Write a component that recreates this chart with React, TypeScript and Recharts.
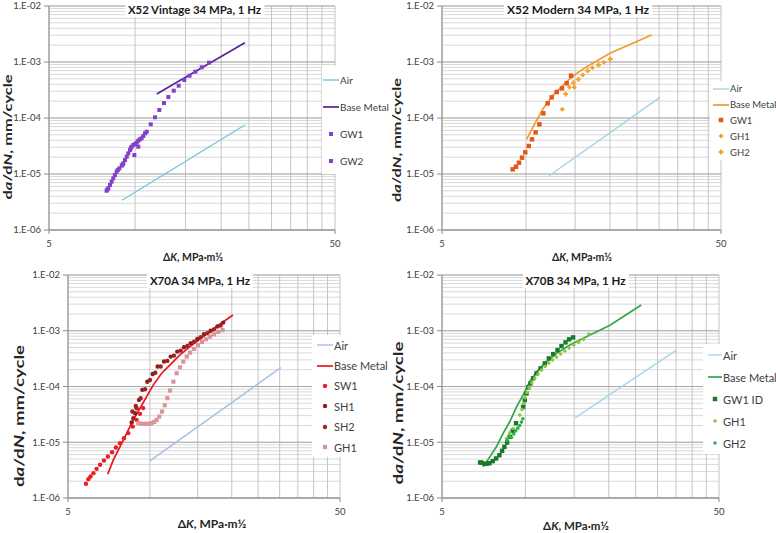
import React from 'react';
import { ComposedChart, Line, Scatter, XAxis, YAxis, CartesianGrid, ReferenceLine, Legend } from 'recharts';

const FONT = 'Lato, "DejaVu Sans", sans-serif';

type Pt = { k: number; v: number };

// ---------- axis ticks ----------
const X_TICKS = [5, 10, 15, 20, 25, 30, 35, 40, 45, 50];
const X_TICK_LABELS: Record<number, string> = { 5: '5', 50: '50' };
const Y_DECADES = [1e-6, 1e-5, 1e-4, 1e-3, 1e-2];
const Y_DECADE_LABELS = ['1.E-06', '1.E-05', '1.E-04', '1.E-03', '1.E-02'];
const Y_MINOR_MULT = [2, 3, 4, 5, 6, 7, 8, 9];
const Y_TICKS = [...Y_DECADES, ...Y_DECADES.slice(0, 4).flatMap((d) => Y_MINOR_MULT.map((m) => m * d))].sort((a, b) => a - b);

// ---------- Panel 1: X52 Vintage ----------
const P1_AIR: Pt[] = [{ k: 9.0, v: 3.4e-6 }, { k: 24.2, v: 7.5e-5 }];
const P1_BASE: Pt[] = [{ k: 11.9, v: 2.68e-4 }, { k: 24.2, v: 2.2e-3 }];
const P1_GW1: Pt[] = [
  { k: 7.95, v: 5.03e-6 }, { k: 8.0, v: 5.3e-6 }, { k: 8.06, v: 5.55e-6 }, { k: 8.17, v: 6.37e-6 }, { k: 8.28, v: 7.29e-6 },
  { k: 8.39, v: 8.38e-6 }, { k: 8.5, v: 9.6e-6 }, { k: 8.62, v: 1.1e-5 }, { k: 8.7, v: 1.18e-5 }, { k: 8.81, v: 1.26e-5 },
  { k: 8.98, v: 1.41e-5 }, { k: 9.04, v: 1.48e-5 }, { k: 9.1, v: 1.55e-5 }, { k: 9.22, v: 1.78e-5 }, { k: 9.35, v: 2.04e-5 },
  { k: 9.47, v: 2.34e-5 }, { k: 9.6, v: 2.68e-5 }, { k: 9.66, v: 2.9e-5 }, { k: 9.73, v: 3.07e-5 }, { k: 9.86, v: 3.3e-5 },
  { k: 10.0, v: 3.43e-5 }, { k: 10.13, v: 3.62e-5 }, { k: 10.26, v: 3.94e-5 }, { k: 10.4, v: 4.16e-5 }, { k: 10.54, v: 4.34e-5 },
  { k: 10.68, v: 4.77e-5 }, { k: 10.83, v: 5.33e-5 }, { k: 10.98, v: 5.69e-5 },
];
const P1_GW2: Pt[] = [
  { k: 9.94, v: 2.18e-5 }, { k: 10.26, v: 3.07e-5 }, { k: 11.34, v: 7.71e-5 }, { k: 11.74, v: 1.03e-4 }, { k: 12.15, v: 1.39e-4 },
  { k: 12.62, v: 1.85e-4 }, { k: 13.07, v: 2.37e-4 }, { k: 13.65, v: 3.07e-4 }, { k: 14.2, v: 3.77e-4 }, { k: 14.86, v: 4.77e-4 },
  { k: 15.5, v: 5.69e-4 }, { k: 16.24, v: 6.71e-4 }, { k: 17.1, v: 8.04e-4 }, { k: 18.13, v: 9.72e-4 },
];

// ---------- Panel 2: X52 Modern ----------
const P2_AIR: Pt[] = [{ k: 12.1, v: 9.3e-6 }, { k: 30.2, v: 2.34e-4 }];
const P2_BASE: Pt[] = [
  { k: 10.05, v: 4.16e-5 }, { k: 10.77, v: 8.04e-5 }, { k: 11.54, v: 1.49e-4 }, { k: 12.53, v: 2.57e-4 }, { k: 13.99, v: 4.45e-4 },
  { k: 15.2, v: 6.28e-4 }, { k: 16.5, v: 8.25e-4 }, { k: 20.0, v: 1.43e-3 }, { k: 28.2, v: 3.03e-3 },
];
const P2_GW1: Pt[] = [
  { k: 8.96, v: 1.21e-5 }, { k: 9.21, v: 1.35e-5 }, { k: 9.44, v: 1.59e-5 }, { k: 9.68, v: 1.96e-5 }, { k: 9.94, v: 2.44e-5 },
  { k: 10.23, v: 3.16e-5 }, { k: 10.51, v: 4.16e-5 }, { k: 10.83, v: 5.55e-5 }, { k: 11.17, v: 7.71e-5 }, { k: 11.54, v: 1.21e-4 },
  { k: 11.96, v: 1.83e-4 }, { k: 12.36, v: 2.34e-4 }, { k: 12.89, v: 2.91e-4 }, { k: 13.46, v: 3.39e-4 }, { k: 13.99, v: 4.16e-4 },
  { k: 14.5, v: 5.69e-4 },
];
const P2_GH1: Pt[] = [
  { k: 13.49, v: 1.43e-4 }, { k: 14.3, v: 3.53e-4 }, { k: 14.9, v: 3.53e-4 }, { k: 15.97, v: 5.86e-4 }, { k: 17.3, v: 7.92e-4 },
  { k: 19.0, v: 9.87e-4 },
];
const P2_GH2: Pt[] = [
  { k: 13.88, v: 2.68e-4 }, { k: 14.78, v: 4.27e-4 }, { k: 15.4, v: 4.9e-4 }, { k: 16.65, v: 7.0e-4 }, { k: 18.2, v: 8.84e-4 },
  { k: 20.05, v: 1.13e-3 },
];

// ---------- Panel 3: X70A ----------
const P3_AIR: Pt[] = [{ k: 10.0, v: 4.64e-6 }, { k: 30.3, v: 2.18e-4 }];
const P3_BASE: Pt[] = [
  { k: 7.0, v: 2.68e-6 }, { k: 7.34, v: 4.84e-6 }, { k: 7.77, v: 8.38e-6 }, { k: 8.22, v: 1.46e-5 }, { k: 8.69, v: 2.52e-5 },
  { k: 9.2, v: 4.08e-5 }, { k: 9.73, v: 6.6e-5 }, { k: 10.3, v: 1.07e-4 }, { k: 11.05, v: 1.73e-4 }, { k: 11.86, v: 2.44e-4 },
  { k: 12.9, v: 3.68e-4 }, { k: 14.05, v: 5.19e-4 }, { k: 15.7, v: 7.85e-4 }, { k: 17.6, v: 1.19e-3 }, { k: 20.2, v: 1.92e-3 },
];
const P3_SW1: Pt[] = [
  { k: 5.82, v: 1.8e-6 }, { k: 5.94, v: 2.18e-6 }, { k: 6.05, v: 2.43e-6 }, { k: 6.2, v: 2.79e-6 }, { k: 6.37, v: 3.33e-6 },
  { k: 6.56, v: 3.94e-6 }, { k: 6.78, v: 4.71e-6 }, { k: 7.01, v: 5.54e-6 }, { k: 7.26, v: 6.64e-6 }, { k: 7.5, v: 8.05e-6 },
  { k: 7.77, v: 9.63e-6 }, { k: 8.03, v: 1.18e-5 }, { k: 8.33, v: 1.46e-5 }, { k: 8.65, v: 1.91e-5 }, { k: 8.94, v: 2.52e-5 },
  { k: 9.2, v: 3.23e-5 }, { k: 9.45, v: 4.1e-5 },
];
const P3_SH1: Pt[] = [
  { k: 8.57, v: 2.26e-5 }, { k: 8.82, v: 3.32e-5 }, { k: 9.12, v: 5.75e-5 }, { k: 9.38, v: 8.7e-5 }, { k: 9.78, v: 1.22e-4 },
  { k: 10.24, v: 1.68e-4 }, { k: 10.68, v: 2.28e-4 }, { k: 11.27, v: 2.8e-4 }, { k: 11.93, v: 3.44e-4 }, { k: 12.61, v: 4.23e-4 },
  { k: 13.35, v: 5.06e-4 }, { k: 14.13, v: 5.97e-4 }, { k: 14.94, v: 7.13e-4 }, { k: 15.81, v: 8.65e-4 }, { k: 16.73, v: 1.0e-3 },
  { k: 17.7, v: 1.19e-3 }, { k: 18.6, v: 1.4e-3 },
];
const P3_SH2: Pt[] = [
  { k: 8.62, v: 3.55e-5 }, { k: 8.69, v: 2.7e-5 }, { k: 8.87, v: 4.49e-5 }, { k: 8.94, v: 4.08e-5 }, { k: 9.25, v: 6.17e-5 },
  { k: 9.6, v: 8.94e-5 }, { k: 10.01, v: 1.31e-4 }, { k: 10.47, v: 1.77e-4 }, { k: 10.96, v: 2.28e-4 }, { k: 11.59, v: 2.88e-4 },
  { k: 12.26, v: 3.58e-4 }, { k: 12.98, v: 4.4e-4 }, { k: 13.73, v: 5.34e-4 }, { k: 14.53, v: 6.38e-4 }, { k: 15.37, v: 7.64e-4 },
  { k: 16.27, v: 9.0e-4 }, { k: 17.2, v: 1.06e-3 }, { k: 18.2, v: 1.24e-3 },
];
const P3_GH1: Pt[] = [
  { k: 9.07, v: 2.2e-5 }, { k: 9.28, v: 2.14e-5 }, { k: 9.49, v: 2.14e-5 }, { k: 9.7, v: 2.14e-5 }, { k: 9.93, v: 2.14e-5 },
  { k: 10.15, v: 2.2e-5 }, { k: 10.38, v: 2.32e-5 }, { k: 10.59, v: 2.52e-5 }, { k: 10.83, v: 2.89e-5 }, { k: 11.08, v: 3.55e-5 },
  { k: 11.34, v: 4.61e-5 }, { k: 11.59, v: 6.17e-5 }, { k: 11.86, v: 8.45e-5 }, { k: 12.2, v: 1.22e-4 }, { k: 12.54, v: 1.73e-4 },
  { k: 12.9, v: 2.21e-4 }, { k: 13.27, v: 2.8e-4 }, { k: 13.66, v: 3.44e-4 }, { k: 14.05, v: 4.05e-4 }, { k: 14.53, v: 4.72e-4 },
  { k: 15.03, v: 5.5e-4 }, { k: 15.55, v: 6.3e-4 }, { k: 16.08, v: 7.04e-4 }, { k: 16.64, v: 7.85e-4 }, { k: 17.2, v: 8.65e-4 },
  { k: 17.85, v: 9.5e-4 }, { k: 18.5, v: 1.03e-3 },
];

// ---------- Panel 4: X70B ----------
const P4_AIR: Pt[] = [{ k: 15.1, v: 2.74e-5 }, { k: 35.1, v: 4.5e-4 }];
const P4_BASE: Pt[] = [
  { k: 7.03, v: 3.62e-6 }, { k: 7.44, v: 5.47e-6 }, { k: 7.86, v: 8.28e-6 }, { k: 8.31, v: 1.44e-5 }, { k: 8.78, v: 2.33e-5 },
  { k: 9.29, v: 4.32e-5 }, { k: 9.81, v: 7.01e-5 }, { k: 10.37, v: 1.22e-4 }, { k: 10.97, v: 1.84e-4 }, { k: 11.92, v: 2.78e-4 },
  { k: 12.96, v: 3.93e-4 }, { k: 14.47, v: 5.54e-4 }, { k: 16.6, v: 7.8e-4 }, { k: 20.2, v: 1.26e-3 }, { k: 26.2, v: 2.89e-3 },
];
const P4_GW1: Pt[] = [
  { k: 6.86, v: 4.34e-6 }, { k: 6.95, v: 4.3e-6 }, { k: 7.12, v: 4.1e-6 }, { k: 7.25, v: 4.1e-6 }, { k: 7.42, v: 4.21e-6 },
  { k: 7.62, v: 4.58e-6 }, { k: 7.84, v: 5.12e-6 }, { k: 8.06, v: 5.86e-6 }, { k: 8.24, v: 7.01e-6 }, { k: 8.4, v: 8.27e-6 },
  { k: 8.59, v: 9.9e-6 }, { k: 8.78, v: 1.25e-5 }, { k: 9.0, v: 1.6e-5 }, { k: 9.25, v: 2.2e-5 },
  { k: 9.81, v: 4.32e-5 }, { k: 9.95, v: 5.7e-5 }, { k: 10.09, v: 7.52e-5 }, { k: 10.23, v: 9.64e-5 }, { k: 10.44, v: 1.14e-4 },
  { k: 10.66, v: 1.4e-4 }, { k: 10.97, v: 1.72e-4 }, { k: 11.34, v: 2.11e-4 }, { k: 11.75, v: 2.6e-4 }, { k: 12.15, v: 3.19e-4 },
  { k: 12.6, v: 3.82e-4 }, { k: 13.06, v: 4.5e-4 }, { k: 13.5, v: 5.31e-4 }, { k: 13.96, v: 6.19e-4 }, { k: 14.38, v: 7.01e-4 },
  { k: 14.87, v: 7.6e-4 },
];
const P4_GH1: Pt[] = [
  { k: 8.55, v: 1.17e-5 }, { k: 8.78, v: 1.48e-5 }, { k: 9.03, v: 1.77e-5 }, { k: 9.54, v: 3.07e-5 }, { k: 9.73, v: 3.88e-5 },
  { k: 9.87, v: 4.98e-5 }, { k: 9.98, v: 6.27e-5 }, { k: 10.12, v: 7.83e-5 }, { k: 10.31, v: 9.64e-5 }, { k: 10.55, v: 1.17e-4 },
  { k: 10.81, v: 1.4e-4 }, { k: 11.11, v: 1.67e-4 }, { k: 11.43, v: 1.97e-4 }, { k: 11.78, v: 2.3e-4 }, { k: 12.15, v: 2.63e-4 },
  { k: 12.53, v: 2.98e-4 }, { k: 12.96, v: 3.37e-4 }, { k: 13.4, v: 3.82e-4 }, { k: 13.88, v: 4.32e-4 }, { k: 14.38, v: 4.89e-4 },
  { k: 14.96, v: 5.54e-4 }, { k: 15.56, v: 6.19e-4 }, { k: 16.22, v: 7.01e-4 }, { k: 16.95, v: 8.73e-4 },
];
const P4_GH2: Pt[] = [
  { k: 8.59, v: 1.09e-5 }, { k: 8.73, v: 1.29e-5 }, { k: 8.91, v: 1.22e-5 }, { k: 9.08, v: 1.4e-5 }, { k: 9.23, v: 1.6e-5 },
  { k: 9.39, v: 1.79e-5 }, { k: 9.54, v: 2.0e-5 }, { k: 9.68, v: 2.3e-5 }, { k: 9.79, v: 2.64e-5 },
];

// ---------- configuration ----------
type Kind = 'line' | 'square' | 'circle' | 'diamond' | 'cross';
type Series = { name: string; data: Pt[]; color: string; kind: Kind; size?: number; width?: number };
type Panel = {
  left: number; top: number; width: number; height: number;
  marginTop: number; marginRight: number; yAxisWidth: number; xAxisHeight: number;
  title: string; titleX: number; titleY: number; titleSize: number;
  xTitle: { x: number; y: number; size: number };
  yTitle: { x: number; y: number; len: number; size: number };
  legend: { left: number; top: number; width: number; row: number; font: number; pad: number; icon: number };
  series: Series[];
};

const PANELS: Panel[] = [
  {
    left: 0, top: 0, width: 388, height: 265, marginTop: 6, marginRight: 53, yAxisWidth: 49, xAxisHeight: 35,
    title: 'X52 Vintage 34 MPa, 1 Hz', titleX: 194.5, titleY: 10, titleSize: 11.4,
    xTitle: { x: 193, y: 257, size: 10.5 }, yTitle: { x: 7, y: 137, len: 125, size: 12 },
    legend: { left: 322, top: 66, width: 66, row: 27, font: 10, pad: 1, icon: 16 },
    series: [
      { name: 'Air', data: P1_AIR, color: '#78C5DC', kind: 'line', width: 1.4 },
      { name: 'Base Metal', data: P1_BASE, color: '#5A2397', kind: 'line', width: 1.7 },
      { name: 'GW1', data: P1_GW1, color: '#8440C8', kind: 'square', size: 4 },
      { name: 'GW2', data: P1_GW2, color: '#8440C8', kind: 'square', size: 4 },
    ],
  },
  {
    left: 388, top: 0, width: 388, height: 265, marginTop: 6, marginRight: 55, yAxisWidth: 54, xAxisHeight: 35,
    title: 'X52 Modern 34 MPa, 1 Hz', titleX: 190, titleY: 10, titleSize: 12,
    xTitle: { x: 194, y: 257, size: 10.5 }, yTitle: { x: 8, y: 140, len: 124, size: 12 },
    legend: { left: 322, top: 81, width: 66, row: 15.8, font: 9.5, pad: 3, icon: 16 },
    series: [
      { name: 'Air', data: P2_AIR, color: '#A3D4E6', kind: 'line', width: 1.4 },
      { name: 'Base Metal', data: P2_BASE, color: '#F39A2B', kind: 'line', width: 1.7 },
      { name: 'GW1', data: P2_GW1, color: '#E2591E', kind: 'square', size: 4.5 },
      { name: 'GH1', data: P2_GH1, color: '#F5A02A', kind: 'diamond', size: 5 },
      { name: 'GH2', data: P2_GH2, color: '#F7A32E', kind: 'cross', size: 5 },
    ],
  },
  {
    left: 0, top: 265, width: 388, height: 268, marginTop: 10, marginRight: 48, yAxisWidth: 68, xAxisHeight: 35,
    title: 'X70A 34 MPa, 1 Hz', titleX: 200, titleY: 16, titleSize: 11.5,
    xTitle: { x: 212, y: 258, size: 12 }, yTitle: { x: 19, y: 151, len: 142, size: 12.5 },
    legend: { left: 312, top: 70, width: 76, row: 20.4, font: 11, pad: 5, icon: 16 },
    series: [
      { name: 'Air', data: P3_AIR, color: '#A3BEE3', kind: 'line', width: 1.4 },
      { name: 'Base Metal', data: P3_BASE, color: '#E8161D', kind: 'line', width: 1.7 },
      { name: 'SW1', data: P3_SW1, color: '#EE1C25', kind: 'circle', size: 4.4 },
      { name: 'SH1', data: P3_SH1, color: '#8E1B1E', kind: 'circle', size: 4.4 },
      { name: 'SH2', data: P3_SH2, color: '#9E2424', kind: 'circle', size: 4.4 },
      { name: 'GH1', data: P3_GH1, color: '#D9959A', kind: 'square', size: 4.2 },
    ],
  },
  {
    left: 388, top: 265, width: 388, height: 268, marginTop: 10, marginRight: 57, yAxisWidth: 54, xAxisHeight: 35,
    title: 'X70B 34 MPa, 1 Hz', titleX: 187.5, titleY: 16, titleSize: 11.5,
    xTitle: { x: 188, y: 260, size: 11.5 }, yTitle: { x: 10, y: 148, len: 143, size: 12.5 },
    legend: { left: 315, top: 79, width: 73, row: 22, font: 11, pad: 5, icon: 14 },
    series: [
      { name: 'Air', data: P4_AIR, color: '#A6D7E8', kind: 'line', width: 1.4 },
      { name: 'Base Metal', data: P4_BASE, color: '#2EA84B', kind: 'line', width: 1.7 },
      { name: 'GW1 ID', data: P4_GW1, color: '#1A7A2A', kind: 'square', size: 4.4 },
      { name: 'GH1', data: P4_GH1, color: '#8DC63F', kind: 'circle', size: 3.6 },
      { name: 'GH2', data: P4_GH2, color: '#2DB04A', kind: 'circle', size: 3.6 },
    ],
  },
];

// ---------- helpers ----------
const yLabel = (v: number): string => {
  const i = Y_DECADES.findIndex((d) => Math.abs(v / d - 1) < 1e-6);
  return i >= 0 ? Y_DECADE_LABELS[i] : '';
};

const YTick = (props: any) => {
  const { x, y, payload } = props;
  const label = yLabel(payload.value);
  if (!label) return <g />;
  return (
    <g>
      <line x1={x + 3} x2={x + 8} y1={y} y2={y} stroke="#8C8C8C" />
      <text x={x} y={y} dy="0.35em" textAnchor="end" fontSize={9.5} fill="#404040" fontFamily={FONT}>{label}</text>
    </g>
  );
};

const XTick = (props: any) => {
  const { x, y, payload } = props;
  const label = X_TICK_LABELS[payload.value];
  if (!label) return <g />;
  return (
    <g>
      <line x1={x} x2={x} y1={y - 8} y2={y - 4} stroke="#8C8C8C" />
      <text x={x} y={y} dy="0.95em" textAnchor="middle" fontSize={9.5} fill="#404040" fontFamily={FONT}>{label}</text>
    </g>
  );
};

const Marker = ({ kind, size, color, cx, cy }: { kind: Kind; size: number; color: string; cx: number; cy: number }) => {
  const h = size / 2;
  if (kind === 'square') return <rect x={cx - h} y={cy - h} width={size} height={size} fill={color} />;
  if (kind === 'circle') return <circle cx={cx} cy={cy} r={h} fill={color} />;
  if (kind === 'diamond') return <polygon points={`${cx},${cy - h} ${cx + h},${cy} ${cx},${cy + h} ${cx - h},${cy}`} fill={color} />;
  const t = size / 5;
  return (
    <g fill={color}>
      <rect x={cx - h} y={cy - t} width={size} height={2 * t} />
      <rect x={cx - t} y={cy - h} width={2 * t} height={size} />
    </g>
  );
};

const makeShape = (s: Series) => (p: any) => {
  if (p == null || p.cx == null || p.cy == null) return <g />;
  return <Marker kind={s.kind} size={s.size || 4} color={s.color} cx={p.cx} cy={p.cy} />;
};

const makeLegend = (panel: Panel) => () => {
  const L = panel.legend;
  return (
    <div style={{ width: L.width, background: '#fff', fontFamily: FONT, fontSize: L.font, color: '#404040' }}>
      {panel.series.map((s) => (
        <div key={s.name} style={{ height: L.row, display: 'flex', alignItems: 'center', whiteSpace: 'nowrap' }}>
          <svg width={L.icon} height={10} style={{ marginLeft: L.pad, marginRight: 1, flex: 'none' }}>
            {s.kind === 'line' ? (
              <line x1={0} x2={L.icon} y1={5} y2={5} stroke={s.color} strokeWidth={s.width || 1.5} />
            ) : (
              <Marker kind={s.kind} size={s.size || 4} color={s.color} cx={L.icon / 2} cy={5} />
            )}
          </svg>
          <span>{s.name}</span>
        </div>
      ))}
    </div>
  );
};

const makeXTitle = (panel: Panel) => () => {
  const t = panel.xTitle;
  return (
    <text x={t.x} y={t.y} textAnchor="middle" dominantBaseline="central" fontFamily={FONT} fontWeight={700}
      fontSize={t.size} fill="#262626">
      Δ<tspan fontStyle="italic">K</tspan>, MPa·m½
    </text>
  );
};

const makeYTitle = (panel: Panel) => () => {
  const t = panel.yTitle;
  return (
    <text x={t.x} y={t.y} transform={`rotate(-90 ${t.x} ${t.y})`} textAnchor="middle" dominantBaseline="central"
      fontFamily={FONT} fontWeight={700} fontSize={t.size} fill="#262626" textLength={t.len} lengthAdjust="spacingAndGlyphs">
      d<tspan fontStyle="italic">a</tspan>/d<tspan fontStyle="italic">N</tspan>, mm/cycle
    </text>
  );
};

const PanelChart = ({ panel }: { panel: Panel }) => (
  <div style={{ position: 'absolute', left: panel.left, top: panel.top, width: panel.width, height: panel.height }}>
    <ComposedChart
      width={panel.width}
      height={panel.height}
      margin={{ top: panel.marginTop, right: panel.marginRight, bottom: 0, left: 0 }}
    >
      <CartesianGrid vertical={false} stroke="#D9D9D9" strokeWidth={1} />
      <CartesianGrid horizontal={false} stroke="#C4C4C4" strokeWidth={1} />
      {Y_DECADES.map((d) => (
        <ReferenceLine key={d} y={d} stroke="#A8A8A8" strokeWidth={1.2} ifOverflow="extendDomain" />
      ))}
      <XAxis
        dataKey="k" type="number" scale="log" domain={[5, 50]} allowDataOverflow ticks={X_TICKS} interval={0}
        height={panel.xAxisHeight} tick={<XTick />} tickLine={false} axisLine={{ stroke: '#8C8C8C' }}
        label={{ content: makeXTitle(panel) } as any}
      />
      <YAxis
        dataKey="v" type="number" scale="log" domain={[1e-6, 1e-2]} allowDataOverflow ticks={Y_TICKS} interval={0}
        width={panel.yAxisWidth} tick={<YTick />} tickLine={false} axisLine={{ stroke: '#8C8C8C' }}
        label={{ content: makeYTitle(panel) } as any}
      />
      {panel.series.map((s) =>
        s.kind === 'line' ? (
          <Line
            key={s.name} name={s.name} data={s.data} dataKey="v" stroke={s.color} strokeWidth={s.width || 1.5}
            dot={false} activeDot={false} isAnimationActive={false} legendType="line" type="linear"
          />
        ) : (
          <Scatter
            key={s.name} name={s.name} data={s.data} dataKey="v" fill={s.color} shape={makeShape(s)}
            isAnimationActive={false} legendType="square"
          />
        )
      )}
      <Legend
        layout="vertical" align="center" verticalAlign="middle"
        content={makeLegend(panel)}
        wrapperStyle={{ left: panel.legend.left, top: panel.legend.top, width: panel.legend.width, background: '#fff' }}
      />
    </ComposedChart>
    <div
      style={{
        position: 'absolute', left: panel.titleX, top: panel.titleY - 7, transform: 'translateX(-50%)',
        background: '#fff', padding: '0 3px', height: 14, lineHeight: '14px', fontFamily: FONT, fontWeight: 700,
        fontSize: panel.titleSize, color: '#1a1a1a', whiteSpace: 'nowrap', zIndex: 2,
      }}
    >
      {panel.title}
    </div>
  </div>
);

export default function App() {
  return (
    <div style={{ position: 'absolute', left: 0, top: 0, width: 776, height: 533, background: '#fff', overflow: 'hidden' }}>
      {PANELS.map((p) => (
        <PanelChart key={p.title} panel={p} />
      ))}
    </div>
  );
}
